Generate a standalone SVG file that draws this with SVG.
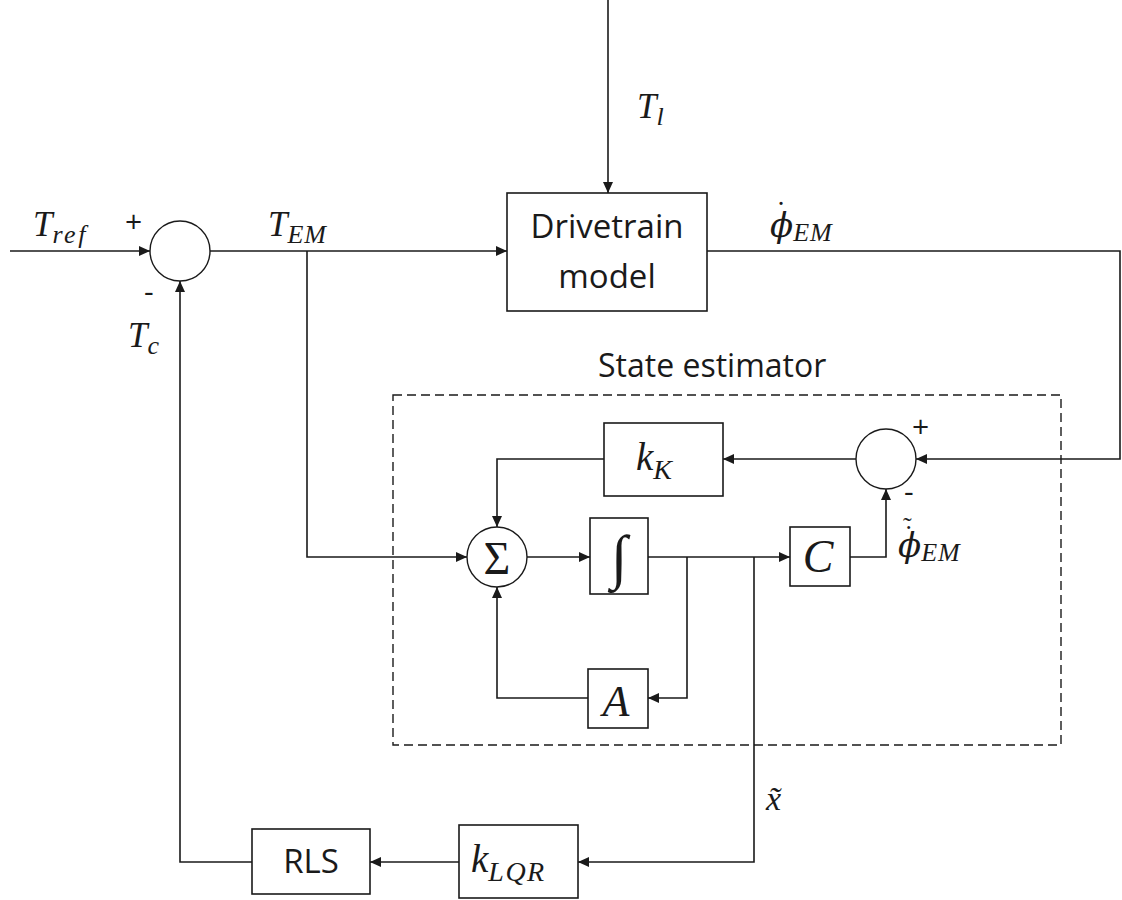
<svg xmlns="http://www.w3.org/2000/svg" width="1122" height="900" viewBox="0 0 1122 900">
<style>
  .ln { fill: none; stroke: #1a1a1a; stroke-width: 1.6; }
  .box { fill: #ffffff; stroke: #1a1a1a; stroke-width: 1.6; }
  .sum { fill: #ffffff; stroke: #1a1a1a; stroke-width: 1.4; }
  .dash { fill: none; stroke: #1a1a1a; stroke-width: 1.4; stroke-dasharray: 9 5; }
  .sans { font-family: "Open Sans", "Noto Sans", "Liberation Sans", sans-serif; fill: #1a1a1a; }
  .math { font-family: "Liberation Serif", "DejaVu Serif", serif; font-style: italic; fill: #1a1a1a; }
  .phi { font-family: "DejaVu Serif", serif; font-style: italic; }
  .acc { font-family: "Liberation Serif", "DejaVu Serif", serif; font-style: normal; }
  .up { font-family: "Liberation Serif", "DejaVu Serif", serif; fill: #1a1a1a; }
</style>
<defs>
  <marker id="ah" markerUnits="userSpaceOnUse" markerWidth="11" markerHeight="10" refX="11" refY="5" orient="auto">
    <path d="M0,0 L11,5 L0,10 z" fill="#1a1a1a"/>
  </marker>
</defs>

<g id="connectors">
  <path class="ln" d="M10,251 H150" marker-end="url(#ah)"/>
  <path class="ln" d="M210,251 H507" marker-end="url(#ah)"/>
  <path class="ln" d="M307,251 V557 H467" marker-end="url(#ah)"/>
  <path class="ln" d="M608,0 V193" marker-end="url(#ah)"/>
  <path class="ln" d="M707,251 H1120 V459 H916" marker-end="url(#ah)"/>
  <path class="ln" d="M856,459 H723" marker-end="url(#ah)"/>
  <path class="ln" d="M604,459 H497 V527" marker-end="url(#ah)"/>
  <path class="ln" d="M527,557 H590" marker-end="url(#ah)"/>
  <path class="ln" d="M648,557 H790" marker-end="url(#ah)"/>
  <path class="ln" d="M687,557 V698 H648" marker-end="url(#ah)"/>
  <path class="ln" d="M588,698 H497 V587" marker-end="url(#ah)"/>
  <path class="ln" d="M850,557 H886 V489" marker-end="url(#ah)"/>
  <path class="ln" d="M754,557 V862 H578" marker-end="url(#ah)"/>
  <path class="ln" d="M459,862 H370" marker-end="url(#ah)"/>
  <path class="ln" d="M252,862 H180 V281" marker-end="url(#ah)"/>
</g>

<g id="state-estimator">
  <rect class="dash" x="393" y="395" width="668" height="350"/>
  <text class="sans" x="598" y="377" font-size="32">State estimator</text>
</g>

<g id="sum1">
  <circle class="sum" cx="180" cy="251" r="30"/>
  <text class="sans" x="125" y="232" font-size="30">+</text>
  <text class="sans" x="144" y="302" font-size="30">-</text>
</g>

<g id="labels-top">
  <text class="math" x="33" y="236" font-size="35">T<tspan font-size="26" dy="7" letter-spacing="2.5">ref</tspan></text>
  <text class="math" x="128" y="347" font-size="35">T<tspan font-size="26" dy="7">c</tspan></text>
  <text class="math" x="268" y="236" font-size="35">T<tspan font-size="26" dy="7" letter-spacing="1">EM</tspan></text>
  <text class="math" x="637" y="118" font-size="35">T<tspan font-size="26" dy="7">l</tspan></text>
  <text class="math" x="770" y="237" font-size="34"><tspan class="phi">ϕ</tspan><tspan font-size="26" dy="4" letter-spacing="1">EM</tspan><tspan class="acc" x="776" y="222" font-size="30">˙</tspan></text>
</g>

<g id="drivetrain">
  <rect class="box" x="507" y="193" width="200" height="118"/>
  <text class="sans" x="607" y="238" font-size="33" text-anchor="middle">Drivetrain</text>
  <text class="sans" x="607" y="288" font-size="33" text-anchor="middle">model</text>
</g>

<g id="sum2">
  <circle class="sum" cx="886" cy="459" r="30"/>
  <text class="sans" x="912" y="437" font-size="30">+</text>
  <text class="sans" x="904" y="502" font-size="30">-</text>
</g>

<g id="kK">
  <rect class="box" x="604" y="423" width="119" height="73"/>
  <text class="math" x="636" y="470" font-size="39">k<tspan font-size="28" dy="9">K</tspan></text>
</g>

<g id="sigma">
  <circle class="sum" cx="497" cy="557" r="30"/>
  <text class="up" x="497" y="574" font-size="46" text-anchor="middle">Σ</text>
</g>

<g id="integrator">
  <rect class="box" x="590" y="518" width="58" height="76"/>
  <text class="up" x="619" y="577" font-size="60" text-anchor="middle">∫</text>
</g>

<g id="A">
  <rect class="box" x="588" y="669" width="60" height="59"/>
  <text class="math" x="616" y="716" font-size="44" text-anchor="middle">A</text>
</g>

<g id="C">
  <rect class="box" x="790" y="527" width="60" height="59"/>
  <text class="math" x="818" y="572" font-size="46" text-anchor="middle">C</text>
</g>

<g id="phi-est">
  <text class="math" x="898" y="557" font-size="34"><tspan class="phi">ϕ</tspan><tspan font-size="26" dy="4" letter-spacing="1">EM</tspan><tspan class="acc" x="904" y="544" font-size="28">˙</tspan><tspan class="acc" x="903" y="535" font-size="26">˜</tspan></text>
</g>

<g id="xhat">
  <text class="math" x="766" y="810" font-size="34">x̃</text>
</g>

<g id="kLQR">
  <rect class="box" x="459" y="825" width="119" height="73"/>
  <text class="math" x="471" y="872" font-size="39">k<tspan font-size="28" dy="9" letter-spacing="1.5">LQR</tspan></text>
</g>

<g id="RLS">
  <rect class="box" x="252" y="829" width="118" height="65"/>
  <text class="sans" x="311" y="873" font-size="33" text-anchor="middle">RLS</text>
</g>
</svg>
